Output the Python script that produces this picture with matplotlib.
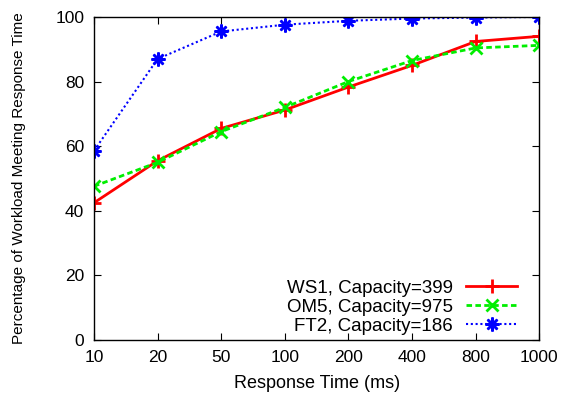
import matplotlib
matplotlib.use("Agg")
import matplotlib.pyplot as plt

plt.rcParams['font.family'] = ['Liberation Sans', 'DejaVu Sans']

# 応答時間 (ms) — 等間隔のカテゴリ軸
times = ["10", "20", "50", "100", "200", "400", "800", "1000"]

# 各ワークロードの割合 (%)
ws1 = [42.5, 55.5, 65.5, 71.2, 78.3, 85.0, 92.4, 94.0]
om5 = [47.6, 55.0, 64.5, 72.0, 80.0, 86.5, 90.4, 91.2]
ft2 = [58.6, 87.0, 95.5, 97.6, 98.8, 99.5, 99.8, 100.0]

labels = ["WS1, Capacity=399", "OM5, Capacity=975", "FT2, Capacity=186"]

x = list(range(len(times)))

fig = plt.figure(figsize=(5.61, 4.03), dpi=100)
ax = fig.add_axes([0.1676, 0.156, 0.7934, 0.802])

ax.plot(x, ws1, color="#ff0000", lw=2, ls="-", marker="+", ms=10, mew=2,
        label=labels[0])
ax.plot(x, om5, color="#00ee00", lw=2, ls=(0, (2, 1.2)), marker="x", ms=8, mew=2,
        label=labels[1])
ax.plot(x, ft2, color="#0000ff", lw=1.5, ls=(0, (1, 1.3)), marker=(8, 2, 0), ms=10, mew=1.8,
        label=labels[2])

ax.set_xlim(0, len(times) - 1)
ax.set_ylim(0, 100)
ax.set_xticks(x)
ax.set_xticklabels(times)
ax.set_yticks(range(0, 101, 20))
ax.tick_params(direction="in", top=True, right=True, length=5, width=0.8,
               labelsize=12.5, pad=7)
for s in ax.spines.values():
    s.set_linewidth(1.0)

ax.set_xlabel("Response Time (ms)", fontsize=13, labelpad=7)
ax.set_ylabel("Percentage of Workload Meeting Response Time", fontsize=11, labelpad=21)

leg = ax.legend(loc="lower right", bbox_to_anchor=(0.967, -0.006), markerfirst=False,
                frameon=False, fontsize=13.5, handlelength=2.7, handletextpad=0.7,
                labelspacing=0.1, borderaxespad=0)

fig.savefig("out.png", dpi=100)
